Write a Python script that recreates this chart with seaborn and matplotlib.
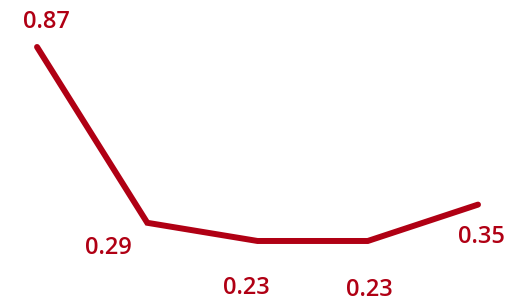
import numpy as np
import pandas as pd
import seaborn as sns
import matplotlib.pyplot as plt

# data
categories = ["A", "B", "C", "D", "E"]
values = [0.87, 0.29, 0.23, 0.23, 0.35]
# label offsets in pixels (dx, dy)
label_dx = [9, -39, -11, 2, 3]
label_dy = [25, -25, -47, -49, -32]

df = pd.DataFrame({"pos": np.arange(len(categories)), "value": values})

sns.set_theme(style="white")
plt.rcParams['font.family'] = ['Open Sans', 'DejaVu Sans']

color = "#B00014"

fig = plt.figure(figsize=(5.06, 3.02), dpi=100)
ax = fig.add_axes([0, 0, 1, 1])

sns.lineplot(data=df, x="pos", y="value", color=color, linewidth=4.3, ax=ax,
             solid_capstyle="round", solid_joinstyle="miter")

for i, v in enumerate(values):
    ax.annotate(f"{v:.2f}", (i, v), xytext=(label_dx[i] * 0.72, label_dy[i] * 0.72),
                textcoords="offset points", ha="center", va="center",
                fontsize=17, fontweight=600, color=color)

ax.set_xlim(-0.336, 4.254)
ax.set_ylim(0.0287, 1.025)
ax.axis("off")

fig.savefig("out.png", dpi=100)
